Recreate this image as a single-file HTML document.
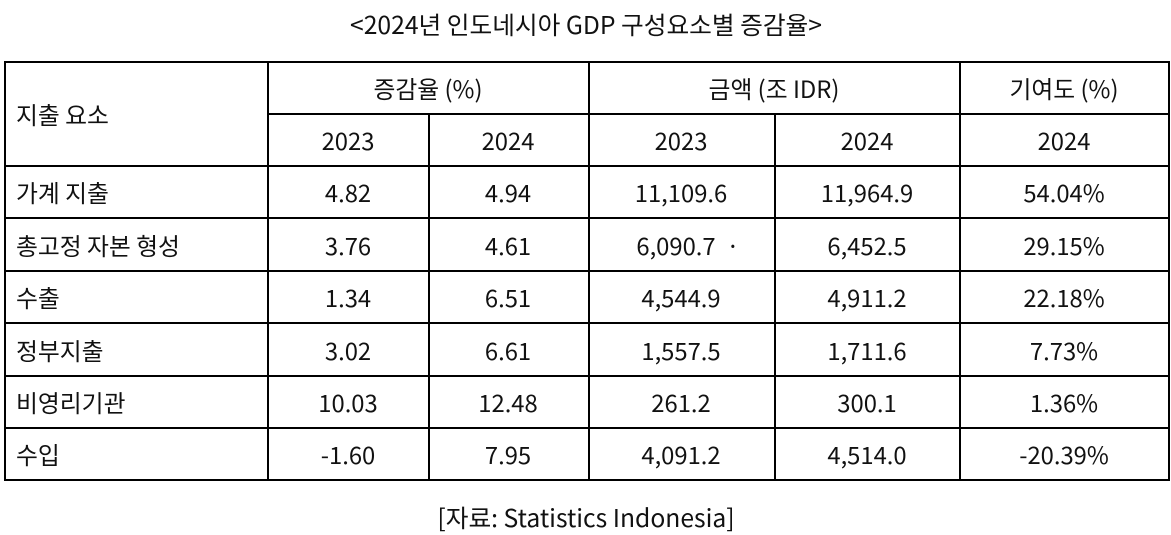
<!DOCTYPE html>
<html><head><meta charset="utf-8"><style>
body{margin:0;width:1171px;height:529px;background:#fff;position:relative;overflow:hidden;font-family:"Noto Sans CJK KR","Liberation Sans",sans-serif;color:#111;font-size:23.8px}
.h{position:absolute;height:2px;background:#000}
.v{position:absolute;width:2px;background:#000}
.t{position:absolute;white-space:nowrap;line-height:30px;transform:translate(-50%,-50%)}
.l{position:absolute;white-space:nowrap;line-height:30px;transform:translateY(-50%)}
</style></head><body>
<div class="t" style="left:586px;top:24px;font-size:24.7px">&lt;2024년 인도네시아 GDP 구성요소별 증감율&gt;</div>
<div class="t" style="left:586px;top:517px;font-size:24.7px">[자료: Statistics Indonesia]</div>
<div class="h" style="left:4px;width:1166px;top:61px"></div>
<div class="h" style="left:267px;width:903px;top:113px"></div>
<div class="h" style="left:4px;width:1166px;top:165px"></div>
<div class="h" style="left:4px;width:1166px;top:217px"></div>
<div class="h" style="left:4px;width:1166px;top:270px"></div>
<div class="h" style="left:4px;width:1166px;top:322px"></div>
<div class="h" style="left:4px;width:1166px;top:375px"></div>
<div class="h" style="left:4px;width:1166px;top:427px"></div>
<div class="h" style="left:4px;width:1166px;top:479px"></div>
<div class="v" style="left:4px;top:61px;height:420px"></div>
<div class="v" style="left:267px;top:61px;height:420px"></div>
<div class="v" style="left:428px;top:113px;height:368px"></div>
<div class="v" style="left:588px;top:61px;height:420px"></div>
<div class="v" style="left:774px;top:113px;height:368px"></div>
<div class="v" style="left:959px;top:61px;height:420px"></div>
<div class="v" style="left:1168px;top:61px;height:420px"></div>

<div class="l" style="left:16px;top:114px">지출 요소</div>
<div class="t" style="left:428px;top:88px">증감율 (%)</div>
<div class="t" style="left:774px;top:88px">금액 (조 IDR)</div>
<div class="t" style="left:1064px;top:88px">기여도 (%)</div>
<div class="t" style="left:348px;top:140px">2023</div>
<div class="t" style="left:508px;top:140px">2024</div>
<div class="t" style="left:681px;top:140px">2023</div>
<div class="t" style="left:867px;top:140px">2024</div>
<div class="t" style="left:1064px;top:140px">2024</div>

<div class="l" style="left:16px;top:192px">가계 지출</div>
<div class="t" style="left:348px;top:192px">4.82</div><div class="t" style="left:508px;top:192px">4.94</div>
<div class="t" style="left:681px;top:192px">11,109.6</div><div class="t" style="left:867px;top:192px">11,964.9</div><div class="t" style="left:1064px;top:192px">54.04%</div>

<div class="l" style="left:16px;top:245px">총고정 자본 형성</div>
<div class="t" style="left:348px;top:245px">3.76</div><div class="t" style="left:508px;top:245px">4.61</div>
<div class="t" style="left:688px;top:245px">6,090.7 &nbsp;·</div><div class="t" style="left:867px;top:245px">6,452.5</div><div class="t" style="left:1064px;top:245px">29.15%</div>

<div class="l" style="left:16px;top:297px">수출</div>
<div class="t" style="left:348px;top:297px">1.34</div><div class="t" style="left:508px;top:297px">6.51</div>
<div class="t" style="left:681px;top:297px">4,544.9</div><div class="t" style="left:867px;top:297px">4,911.2</div><div class="t" style="left:1064px;top:297px">22.18%</div>

<div class="l" style="left:16px;top:350px">정부지출</div>
<div class="t" style="left:348px;top:350px">3.02</div><div class="t" style="left:508px;top:350px">6.61</div>
<div class="t" style="left:681px;top:350px">1,557.5</div><div class="t" style="left:867px;top:350px">1,711.6</div><div class="t" style="left:1064px;top:350px">7.73%</div>

<div class="l" style="left:16px;top:402px">비영리기관</div>
<div class="t" style="left:348px;top:402px">10.03</div><div class="t" style="left:508px;top:402px">12.48</div>
<div class="t" style="left:681px;top:402px">261.2</div><div class="t" style="left:867px;top:402px">300.1</div><div class="t" style="left:1064px;top:402px">1.36%</div>

<div class="l" style="left:16px;top:454px">수입</div>
<div class="t" style="left:348px;top:454px">-1.60</div><div class="t" style="left:508px;top:454px">7.95</div>
<div class="t" style="left:681px;top:454px">4,091.2</div><div class="t" style="left:867px;top:454px">4,514.0</div><div class="t" style="left:1064px;top:454px">-20.39%</div>
</body></html>
